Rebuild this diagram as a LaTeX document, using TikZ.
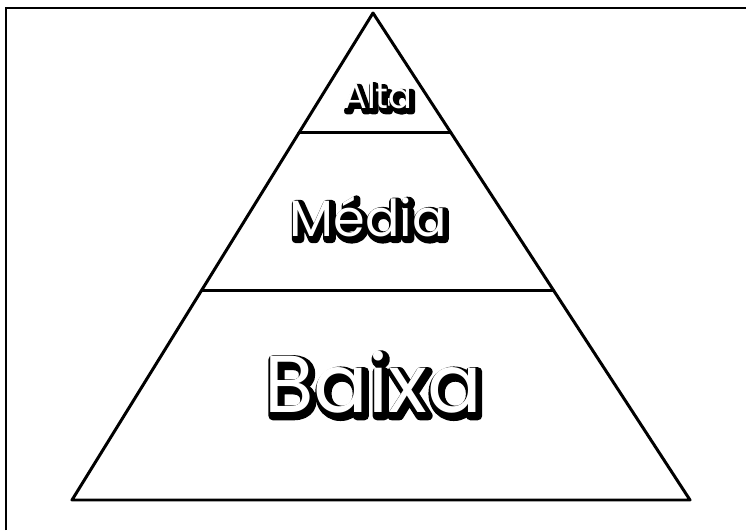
\documentclass[tikz,border=0pt]{standalone}
\usepackage{fontspec}
\setmainfont{Poppins}
\usetikzlibrary{calc}
\tikzset{
  edge/.style={line width=1.7pt,line join=round,line cap=round},
  frame/.style={line width=1.2pt},
  label/.style={text=white,inner sep=0pt}
}
% outlined glyphs: black filled+stroked copy behind, white copy on top
\newcommand{\strokeon}[1]{\special{pdf:literal direct 2 Tr #1 w 1 j}}
\newcommand{\strokeoff}{\special{pdf:literal direct 0 Tr 0.4 w 0 j}}
\newcommand{\rimmed}[2]{\rlap{\kern1.3pt\raisebox{-1.7pt}{\color{black}\strokeon{#1}#2\strokeoff}}#2}

\begin{document}
\begin{tikzpicture}[x=0.02cm,y=-0.02cm]
  \useasboundingbox (0,0) rectangle (746,530);
  \draw[frame] (6,530) -- (6,8) -- (746,8);
  \coordinate (top) at (373,13); \coordinate (bl) at (72,500); \coordinate (br) at (690,500);
  \draw[edge] (top) -- (bl) -- (br) -- cycle;
  \draw[edge] ($(top)!0.246!(bl)$) -- ($(top)!0.246!(br)$);
  \draw[edge] ($(top)!0.570!(bl)$) -- ($(top)!0.570!(br)$);
  \node[label,font=\fontsize{20}{22}\selectfont] (alta) at (378,97) {\rimmed{3.5}{Alta}};
  \node[label,font=\fontsize{29}{32}\selectfont] (media) at (368,218) {\rimmed{4.5}{Média}};
  \node[label,font=\fontsize{46}{50}\selectfont] (baixa) at (373,384) {\rimmed{5}{Baixa}};
\end{tikzpicture}
\end{document}
